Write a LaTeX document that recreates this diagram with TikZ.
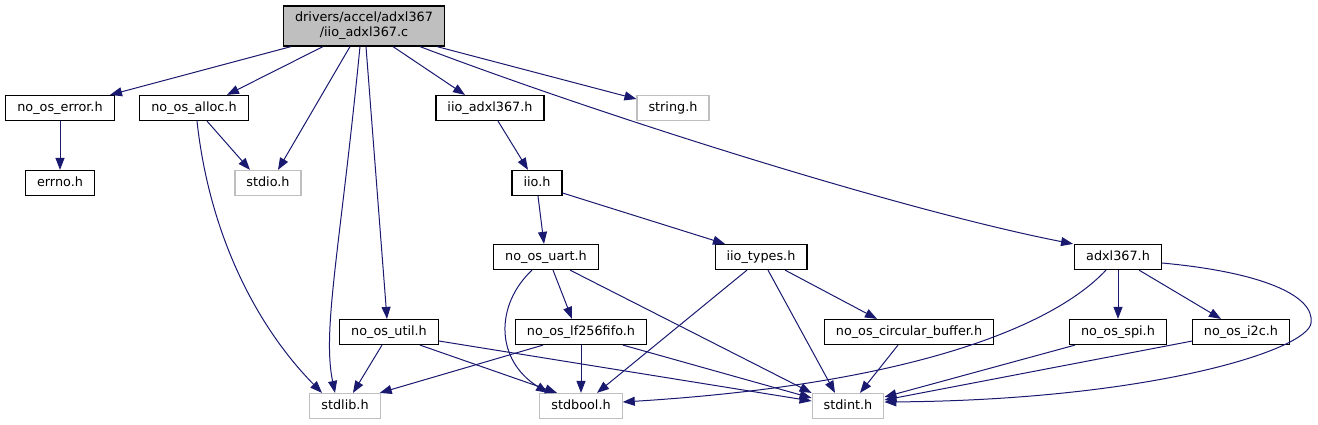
\documentclass[tikz,border=0pt]{standalone}
\usepackage{fontspec}
\setmainfont{DejaVu Sans}
\usetikzlibrary{arrows.meta}
\definecolor{edgeblue}{HTML}{191970}
\definecolor{sysgrey}{HTML}{BFBFBF}

\begin{document}
\begin{tikzpicture}[x=1pt, y=-1pt,
  file/.style={draw=black, line width=1.2pt, rectangle, inner xsep=11.5pt, inner ysep=0pt,
    minimum height=25pt, text height=9.5pt, text depth=2.7pt,
    font=\fontsize{12.8pt}{15pt}\selectfont},
  sysfile/.style={file, draw=sysgrey},
  edge/.style={draw=edgeblue, line width=1pt, -{Triangle[length=12pt, width=9pt]}}]
  \useasboundingbox (0,0) rectangle (1318,425);

  % source file
  \node[draw=black, fill=sysgrey, line width=1.2pt, inner xsep=11.5pt, inner ysep=0pt,
    minimum height=40pt, align=center, font=\fontsize{12.8pt}{15pt}\selectfont]
    (root) at (364,26) {drivers/accel/adxl367\\/iio\_adxl367.c};

  % headers
  \node[file] (err) at (60,108) {no\_os\_error.h};
  \node[file] (alloc) at (194,108) {no\_os\_alloc.h};
  \node[file] (iioadxl) at (490,108) {iio\_adxl367.h};
  \node[sysfile] (string) at (673,108) {string.h};
  \node[file] (errno) at (60,183) {errno.h};
  \node[sysfile] (stdio) at (268,183) {stdio.h};
  \node[file] (iio) at (537,183) {iio.h};
  \node[file] (uart) at (546,257) {no\_os\_uart.h};
  \node[file] (types) at (761,257) {iio\_types.h};
  \node[file] (adxl) at (1118,257) {adxl367.h};
  \node[file] (util) at (389,332) {no\_os\_util.h};
  \node[file] (fifo) at (581,332) {no\_os\_lf256fifo.h};
  \node[file] (circ) at (909,332) {no\_os\_circular\_buffer.h};
  \node[file] (spi) at (1118,332) {no\_os\_spi.h};
  \node[file] (i2c) at (1241,332) {no\_os\_i2c.h};
  \node[sysfile] (stdlib) at (345,406) {stdlib.h};
  \node[sysfile] (stdbool) at (581,406) {stdbool.h};
  \node[sysfile] (stdint) at (848,406) {stdint.h};

  % includes of the source file
  \draw[edge] ([xshift=-73pt]root.south) -- ([xshift=50pt]err.north);
  \draw[edge] ([xshift=-41pt]root.south) -- ([xshift=33pt]alloc.north);
  \draw[edge] ([xshift=-14pt]root.south) -- ([xshift=10pt]stdio.north);
  \draw[edge] ([xshift=-4pt]root.south) .. controls (340,250) and (322,330) .. ([xshift=-10pt]stdlib.north);
  \draw[edge] ([xshift=2pt]root.south) -- ([xshift=-2pt]util.north);
  \draw[edge] ([xshift=29pt]root.south) -- ([xshift=-25pt]iioadxl.north);
  \draw[edge] ([xshift=73pt]root.south) -- ([yshift=9pt]string.west);
  \draw[edge] ([xshift=56pt]root.south) .. controls (600,115) and (900,210) .. ([xshift=-1pt]adxl.north west);

  % nested includes
  \draw[edge] (err.south) -- (errno.north);
  \draw[edge] ([xshift=13pt]alloc.south) -- ([xshift=-18pt]stdio.north);
  \draw[edge] ([xshift=3pt]alloc.south) .. controls (210,240) and (260,330) .. ([xshift=-23pt]stdlib.north);
  \draw[edge] ([xshift=8pt]iioadxl.south) -- ([xshift=-9pt]iio.north);
  \draw[edge] ([xshift=1pt]iio.south) -- ([xshift=-2pt]uart.north);
  \draw[edge] ([yshift=-10pt]iio.east) -- ([xshift=-36pt]types.north);
  \draw[edge] ([xshift=7pt]uart.south) -- ([xshift=-9pt]fifo.north);
  \draw[edge] ([xshift=-14pt]uart.south) .. controls (495,305) and (495,360) .. ([xshift=-33pt]stdbool.north);
  \draw[edge] ([xshift=24pt]uart.south) -- (stdint.north west);
  \draw[edge] ([xshift=-14pt]types.south) -- ([xshift=16pt]stdbool.north);
  \draw[edge] ([xshift=7pt]types.south) -- ([xshift=-13pt]stdint.north);
  \draw[edge] ([xshift=24pt]types.south) -- ([xshift=-32pt]circ.north);
  \draw[edge] ([xshift=-12pt]adxl.south) .. controls (1050,330) and (900,385) .. ([yshift=4pt]stdbool.east);
  \draw[edge] (adxl.south) -- (spi.north);
  \draw[edge] ([xshift=21pt]adxl.south) -- ([xshift=-20pt]i2c.north);
  \draw[edge] ([yshift=-6pt]adxl.east) .. controls (1260,272) and (1315,295) .. (1311,323)
    .. controls (1308,350) and (1150,400) .. ([yshift=4pt]stdint.east);
  \draw[edge] ([xshift=-7pt]util.south) -- ([xshift=8pt]stdlib.north);
  \draw[edge] ([xshift=31pt]util.south) -- ([xshift=-24pt]stdbool.north);
  \draw[edge] ([yshift=-9pt]util.east) -- ([yshift=5pt]stdint.west);
  \draw[edge] ([xshift=-38pt]fifo.south) -- ([xshift=-1pt]stdlib.north east);
  \draw[edge] (fifo.south) -- (stdbool.north);
  \draw[edge] ([xshift=42pt]fifo.south) -- ([yshift=8pt]stdint.west);
  \draw[edge] ([xshift=-11pt]circ.south) -- ([xshift=12pt]stdint.north);
  \draw[edge] ([xshift=-43pt]spi.south) -- ([yshift=9pt]stdint.east);
  \draw[edge] ([yshift=4pt]i2c.south west) -- ([yshift=6pt]stdint.east);
\end{tikzpicture}
\end{document}
